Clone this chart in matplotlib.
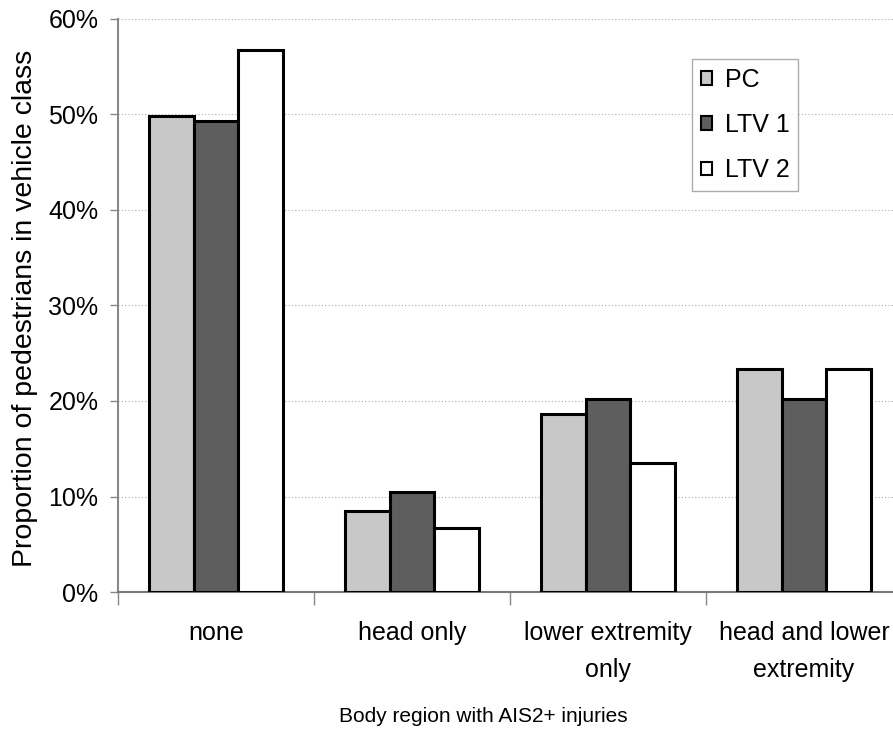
import matplotlib
matplotlib.use("Agg")
import matplotlib.pyplot as plt
import numpy as np
from matplotlib.ticker import FuncFormatter, MultipleLocator

plt.rcParams['font.family'] = ['Liberation Sans', 'DejaVu Sans']

categories = ["none", "head only", "lower extremity\nonly", "head and lower\nextremity"]
series_names = ["PC", "LTV 1", "LTV 2"]
pc_values = [49.8, 8.5, 18.6, 23.4]
ltv1_values = [49.3, 10.5, 20.2, 20.2]
ltv2_values = [56.7, 6.7, 13.5, 23.3]

face_colors = ["#c8c8c8", "#5e5e5e", "#ffffff"]

fig = plt.figure(figsize=(8.93, 7.29), dpi=100)
ax = fig.add_axes([0.1321, 0.1879, 0.878, 0.7861])

x = np.arange(len(categories))
width = 0.227
for i, (vals, name, fc) in enumerate(zip([pc_values, ltv1_values, ltv2_values],
                                          series_names, face_colors)):
    ax.bar(x + (i - 1) * width, vals, width, color=fc, edgecolor="black",
           linewidth=2.2, label=name, zorder=3)

ax.set_xlim(-0.5, len(categories) - 0.5)
ax.set_ylim(0, 60)
ax.yaxis.set_major_locator(MultipleLocator(10))
ax.yaxis.set_major_formatter(FuncFormatter(lambda v, p: f"{v:.0f}%"))
ax.grid(axis="y", linestyle=(0, (1, 2)), color="#aaaaaa", linewidth=0.8, zorder=0)

ax.set_xticks(x)
ax.set_xticklabels(categories, fontsize=18, linespacing=1.7)
ax.set_xticks(np.arange(len(categories) + 1) - 0.5, minor=True)
ax.tick_params(axis="x", which="major", length=0, pad=21)
ax.tick_params(axis="x", which="minor", length=9, width=1, color="#888888")
ax.tick_params(axis="y", labelsize=18, length=6, width=1, color="#888888", pad=8)

for side in ["top", "right"]:
    ax.spines[side].set_visible(False)
ax.spines["left"].set_color("#888888")
ax.spines["left"].set_linewidth(1.5)
ax.spines["bottom"].set_color("#777777")
ax.spines["bottom"].set_linewidth(1.5)

ax.set_ylabel("Proportion of pedestrians in vehicle class", fontsize=20.5)
ax.yaxis.set_label_coords(-0.102, 0.495)
fig.text(483 / 893, 1 - 716 / 729, "Body region with AIS2+ injuries",
         fontsize=15, ha="center", va="center")

leg = ax.legend(loc="upper left", bbox_to_anchor=((692 - 118) / 784, (592 - 59) / 573),
                fontsize=18, frameon=True, fancybox=False, edgecolor="#999999",
                handlelength=0.45, handleheight=0.45, handletextpad=0.5,
                labelspacing=0.85, borderpad=0.35, borderaxespad=0)
leg.get_frame().set_linewidth(1.0)
for h in leg.legend_handles:
    h.set_linewidth(1.5)

fig.savefig("out.png", dpi=100)
